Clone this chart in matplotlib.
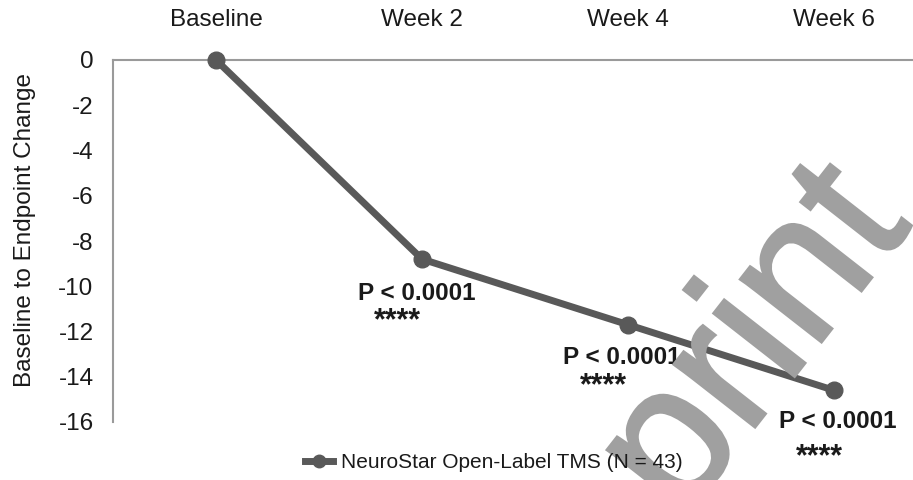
import matplotlib.pyplot as plt
import matplotlib.patheffects as pe

plt.rcParams['font.family'] = ['Liberation Sans', 'DejaVu Sans']

# mean change from baseline at each visit
visits = ['Baseline', 'Week 2', 'Week 4', 'Week 6']
change = [0.0, -8.8, -11.7, -14.6]
p_labels = ['', 'P < 0.0001', 'P < 0.0001', 'P < 0.0001']
stars = ['', '****', '****', '****']
series_name = 'NeuroStar Open-Label TMS (N = 43)'

W, H = 913, 480
fig = plt.figure(figsize=(W / 100, H / 100), dpi=100)

# axes box in pixels: left 113, top 60, bottom 422, right beyond the canvas
ax = fig.add_axes([113 / W, 1 - 422 / H, 824 / W, 362 / H])
ax.set_facecolor('none')

# watermark behind everything, thickened a little with a stroke of the same grey
fig.text(0.727, 0.0375, 'Preprint', rotation=52, fontsize=140, color='#a0a0a0',
         ha='center', va='center', zorder=0,
         path_effects=[pe.withStroke(linewidth=2, foreground='#a0a0a0',
                                     joinstyle='miter')])

x = list(range(len(visits)))
line, = ax.plot(x, change, color='#595959', lw=5, marker='o', markersize=12,
                zorder=3, clip_on=False, label=series_name)

ax.set_xlim(-0.5, 3.5)
ax.set_ylim(-16, 0)
ax.set_yticks(range(-16, 1, 2))
ax.set_yticklabels([str(v) for v in range(-16, 1, 2)])
ax.set_xticks(x)
ax.set_xticklabels(visits)
ax.xaxis.tick_top()
ax.tick_params(axis='both', length=0, labelsize=17.5, colors='#1a1a1a')
ax.tick_params(axis='x', pad=21)
ax.tick_params(axis='y', pad=14)

for s in ['right', 'bottom']:
    ax.spines[s].set_visible(False)
ax.spines['left'].set_color('#9a9a9a')
ax.spines['top'].set_color('#9a9a9a')
ax.spines['left'].set_linewidth(1.5)
ax.spines['top'].set_linewidth(1.5)

ax.set_ylabel('Baseline to Endpoint Change', fontsize=17.5, color='#1a1a1a')
ax.yaxis.set_label_coords(-77 / 824, (422 - 230) / 362)

# significance labels below each follow-up point
p_offsets = [(0, 0), (-0.025, -1.5), (-0.03, -1.45), (0.02, -1.4)]
s_offsets = [(0, 0), (-0.12, -2.75), (-0.12, -2.7), (-0.07, -2.95)]
for i in range(1, len(visits)):
    dx, dy = p_offsets[i]
    ax.text(x[i] + dx, change[i] + dy, p_labels[i], fontsize=17.5, fontweight='bold',
            ha='center', va='center', color='#1a1a1a', zorder=4, clip_on=False)
    dx, dy = s_offsets[i]
    ax.text(x[i] + dx, change[i] + dy, stars[i], fontsize=22, fontweight='bold',
            ha='center', va='center', color='#1a1a1a', zorder=4, clip_on=False)

leg = fig.legend(handles=[line], loc='center', bbox_to_anchor=(494 / W, 1 - 463 / H),
                 frameon=False, fontsize=15, handlelength=1.3, handletextpad=0.4,
                 markerscale=0.75)
for t in leg.get_texts():
    t.set_color('#1a1a1a')

fig.savefig('out.png', dpi=100)
